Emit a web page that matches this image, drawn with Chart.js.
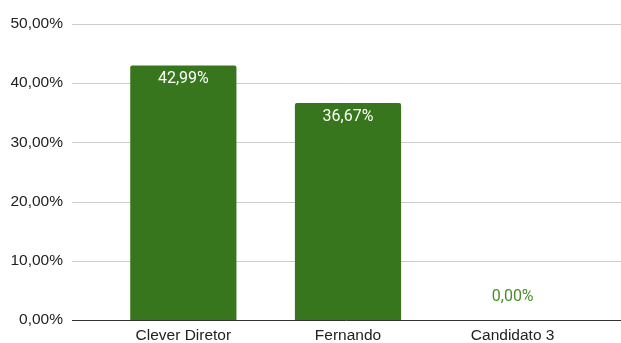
<!DOCTYPE html>
<html>
<head>
<meta charset="utf-8">
<script src="https://cdn.jsdelivr.net/npm/chart.js@4"></script>
<style>
  html, body { margin: 0; padding: 0; background: #fff; overflow: hidden; }
  #wrap { position: relative; width: 621px; height: 343px; }
</style>
</head>
<body>
<div id="wrap"><canvas id="grafico"></canvas></div>
<script>
// Percentual de votos por candidato
const candidatos = ['Clever Diretor', 'Fernando', 'Candidato 3'];
const votos = [42.99, 36.67, 0];
const ticksY = [0, 10, 20, 30, 40, 50];

const verde = '#38761d';
const fmt = v => v.toFixed(2).replace('.', ',') + '%';

// Linhas de grade horizontais que ultrapassam a área do gráfico
const gradeLarga = {
  id: 'gradeLarga',
  beforeDatasetsDraw(chart) {
    const { ctx, scales: { y } } = chart;
    ctx.save();
    ticksY.forEach(t => {
      const py = Math.round(y.getPixelForValue(t)) + 0.5;
      ctx.strokeStyle = t === 0 ? '#333' : '#ccc';
      ctx.lineWidth = 1;
      ctx.beginPath();
      ctx.moveTo(72, py);
      ctx.lineTo(621, py);
      ctx.stroke();
    });
    ctx.restore();
  }
};

// Rótulos de valor nas barras
const rotulos = {
  id: 'rotulos',
  afterDatasetsDraw(chart) {
    const { ctx } = chart;
    const meta = chart.getDatasetMeta(0);
    ctx.save();
    ctx.font = '16px Roboto, Arial, sans-serif';
    ctx.textAlign = 'center';
    ctx.textBaseline = 'middle';
    meta.data.forEach((bar, i) => {
      const v = votos[i];
      if (v > 3) {
        ctx.fillStyle = '#fff';
        ctx.fillText(fmt(v), bar.x, bar.y + 14);
      } else {
        ctx.fillStyle = '#4a8c2a';
        ctx.fillText(fmt(v), bar.x, bar.y - 23);
      }
    });
    ctx.restore();
  }
};

new Chart(document.getElementById('grafico'), {
  type: 'bar',
  data: {
    labels: candidatos,
    datasets: [{
      data: votos,
      backgroundColor: verde,
      borderRadius: { topLeft: 2, topRight: 2 },
      borderSkipped: 'bottom',
      barPercentage: 0.645,
      categoryPercentage: 1
    }]
  },
  options: {
    responsive: true,
    maintainAspectRatio: false,
    animation: false,
    layout: { padding: { left: 10, right: 26, top: 24, bottom: 0 } },
    plugins: { legend: { display: false }, tooltip: { enabled: false } },
    scales: {
      x: {
        grid: { display: false, drawTicks: false },
        border: { display: false },
        afterFit(scale) { scale.height = 23; },
        ticks: {
          color: '#222',
          padding: 6,
          font: { family: 'Arial, "Liberation Sans", sans-serif', size: 15.5 }
        }
      },
      y: {
        min: 0,
        max: 50,
        grid: { display: false, drawTicks: false },
        border: { display: false },
        afterFit(scale) {
          // o espaçamento grande dos rótulos não deve empurrar a área do gráfico
          scale.width = 91;
          scale.paddingTop = 8;
          scale.paddingBottom = 8;
        },
        ticks: {
          stepSize: 10,
          padding: 38,
          color: '#222',
          font: { family: 'Arial, "Liberation Sans", sans-serif', size: 15.5 },
          callback: v => fmt(v)
        }
      }
    }
  },
  plugins: [gradeLarga, rotulos]
});
</script>
</body>
</html>
